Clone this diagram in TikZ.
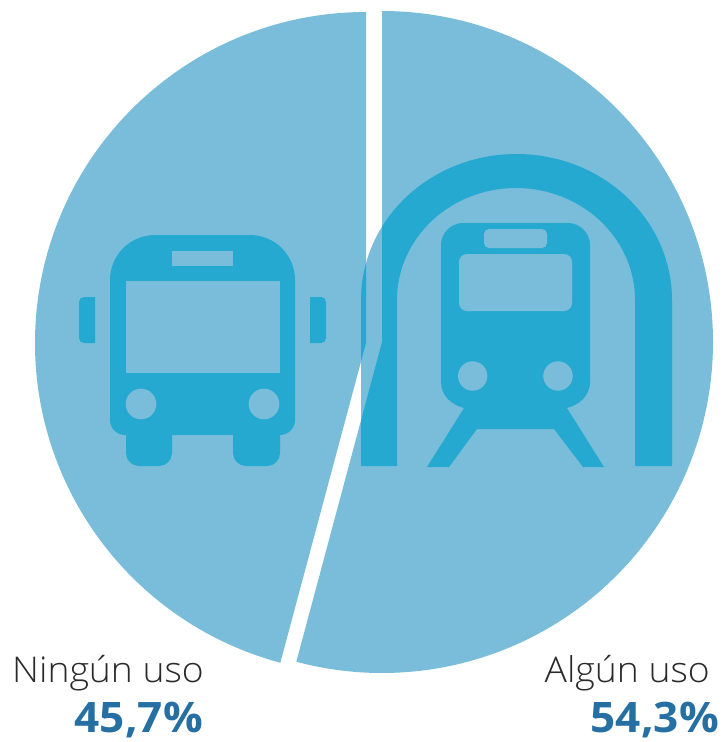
\documentclass[tikz,border=0pt]{standalone}
\usepackage{fontspec}
\setmainfont{Open Sans}
\newfontfamily\lightfont{Open Sans Light}
\definecolor{pie}{HTML}{79BDDA}
\definecolor{icon}{HTML}{26A9D0}
\definecolor{pct}{HTML}{266FA3}
\definecolor{lbl}{HTML}{2A2A2A}
\tikzset{
  pielight/.style={fill=pie,draw=none},
  icondark/.style={fill=icon,draw=none},
  hole/.style={fill=pie,draw=none},
  namelabel/.style={inner sep=0,text=lbl,xscale=1.05,font=\fontsize{35.5}{40}\lightfont},
  pctlabel/.style={inner sep=0,text=pct,xscale=1.05,font=\fontsize{42}{46}\selectfont\bfseries},
}
\newcommand{\tunnelpath}{(361,466) -- (361,300) arc[start angle=180,end angle=360,x radius=155.5,y radius=146] -- (672,466) -- (635,466) -- (635,300) arc[start angle=360,end angle=180,x radius=119,y radius=112] -- (397,466) -- cycle}
\newcommand{\slicespath}{(366,343) -- (366,12) arc[start angle=-90,end angle=-255,radius=331] -- cycle (382,342) -- (382,11) arc[start angle=-90,end angle=105,radius=331] -- cycle}
\begin{document}
\begin{tikzpicture}[x=1pt,y=-1pt]
\useasboundingbox (0,0) rectangle (723,742);
% tunnel seen through the gap
\fill[pielight] \tunnelpath;
% pie slices
\fill[pielight] \slicespath;
% tunnel over the slices
\begin{scope}
\clip \slicespath;
\fill[icondark] \tunnelpath;
\end{scope}
% bus
\fill[icondark] (110,280) [rounded corners=45pt] -- (110,235) -- (295,235) [sharp corners] -- (295,280) [rounded corners=15pt] -- (295,435) [sharp corners] -- (280,435) [rounded corners=13pt] -- (280,466) -- (233,466) [sharp corners] -- (233,435) -- (172,435) [rounded corners=13pt] -- (172,466) -- (126,466) [sharp corners] -- (126,435) [rounded corners=15pt] -- (110,435) [sharp corners] -- cycle;
\fill[hole] (172,251) rectangle (233,266);
\fill[hole] (126,281) rectangle (280,373);
\fill[hole] (141,404) circle[radius=15.3];
\fill[hole] (264,404) circle[radius=15.3];
\fill[icondark] (95,320) -- (95,297) [rounded corners=5pt] -- (79,297) -- (79,343) [sharp corners] -- (95,343) -- cycle;
\fill[icondark] (310,320) -- (310,297) [rounded corners=5pt] -- (326,297) -- (326,343) [sharp corners] -- (310,343) -- cycle;
% train
\fill[icondark] (463,223) -- (568,223) .. controls (580,223) and (590,233) .. (590,245) -- (590,382) .. controls (590,396) and (579,405) .. (567,408) -- (604,467) -- (583,467) -- (554,429) -- (477,429) -- (449,467) -- (427,467) -- (464,408) .. controls (452,405) and (441,396) .. (441,382) -- (441,245) .. controls (441,233) and (451,223) .. (463,223) -- cycle;
\fill[hole,rounded corners=5pt] (484,229) rectangle (547,248);
\fill[hole,rounded corners=8pt] (459,254) rectangle (572,311);
\fill[hole] (472.7,376) circle[radius=14.7];
\fill[hole] (558,376) circle[radius=14.7];
% labels
\node[namelabel,anchor=base west] (ninguno) at (12,682) {Ningún uso};
\node[namelabel,anchor=base east] (alguno) at (710,682) {Algún uso};
\node[pctlabel,anchor=base east] (p1) at (203,732) {45,7\%};
\node[pctlabel,anchor=base east] (p2) at (719,732) {54,3\%};
\end{tikzpicture}
\end{document}
